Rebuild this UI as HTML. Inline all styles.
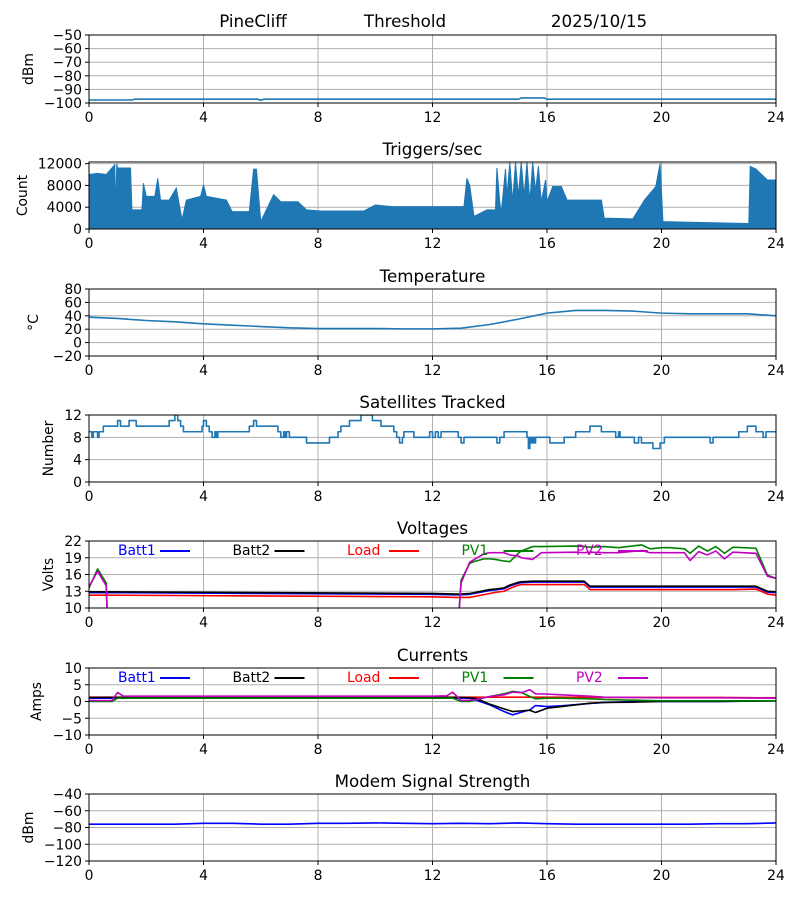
<!DOCTYPE html>
<html><head><meta charset="utf-8"><style>
html,body{margin:0;padding:0;background:#fff}
svg{display:block;font-family:"DejaVu Sans","Liberation Sans",sans-serif}
</style></head><body>
<svg id="fig" width="800" height="900" xmlns="http://www.w3.org/2000/svg">
<g font-size="16.7" fill="#000">
<text x="253" y="27" text-anchor="middle">PineCliff</text>
<text x="405" y="27" text-anchor="middle">Threshold</text>
<text x="599" y="27" text-anchor="middle">2025/10/15</text>
</g>
</svg>
<script>
// ---- data ----
const xTicks = [0,4,8,12,16,20,24];
const sigHours = [0,1.5,1.6,5.9,6.0,6.1,15,15.1,15.9,16,24];
const sigVals = [-97.8,-97.8,-97.2,-97.2,-98,-97.2,-97.2,-96.3,-96.3,-97.2,-97.2];
const sigTicks = [-100,-90,-80,-70,-60,-50];

const trigHours = [0,0.3,0.6,0.9,0.93,0.97,1.0,1.45,1.5,1.85,1.9,2.0,2.3,2.4,2.5,2.8,3.05,3.25,3.4,3.9,4.0,4.1,4.8,5.0,5.6,5.75,5.85,6.0,6.45,6.7,7.3,7.6,8.1,9.6,10.0,10.6,13.1,13.2,13.3,13.45,13.9,14.2,14.25,14.35,14.4,14.55,14.6,14.7,14.8,14.9,15.0,15.1,15.2,15.3,15.4,15.5,15.6,15.7,15.8,15.95,16.0,16.2,16.5,16.7,17.1,17.3,17.9,18.0,19.0,19.4,19.8,19.95,20.05,20.1,20.4,23.0,23.05,23.1,23.3,23.7,24];
const trigVals = [10000,10200,10000,11800,3000,12000,11200,11200,3500,3500,8400,6000,6000,9300,5300,5300,7500,1700,5300,6000,8100,6000,5300,3200,3200,11000,11000,1350,6300,5000,5000,3500,3300,3300,4400,4100,4100,9300,8000,2300,3500,3500,11200,5000,2900,11000,6000,12200,5000,12200,6000,12200,6000,12200,5000,12200,7000,11500,5000,9000,5000,7800,7800,5300,5300,5300,5300,2000,1850,5300,7800,12000,1400,1350,1300,1000,1000,11500,11000,9000,9000];
const trigTicks = [0,4000,8000,12000];

const tempHours = [0,1,2,3,4,5,6,7,8,9,10,11,12,13,14,15,16,17,18,19,20,21,22,23,24];
const tempVals = [38,36,33,31,28,26,24,22,21,21,21,20.5,20.5,21.5,27,35,44,48,48,47,44,43,43,43,40];
const tempTicks = [-20,0,20,40,60,80];

const satHours = [0,0.1,0.15,0.3,0.35,0.5,1.0,1.1,1.4,1.65,2.8,3.0,3.1,3.2,3.3,3.95,4.0,4.1,4.2,4.3,4.4,4.45,4.5,5.6,5.75,5.85,6.6,6.7,6.8,6.85,6.9,7.0,7.6,8.4,8.7,8.8,9.1,9.5,9.9,10.2,10.65,10.75,10.85,10.95,11.0,11.35,11.9,12.0,12.1,12.2,12.3,12.9,13.0,13.1,14.25,14.35,14.5,15.3,15.35,15.4,15.45,15.5,15.55,15.6,16.1,16.6,17.0,17.5,17.9,18.4,18.5,18.55,19.05,19.2,19.3,19.7,19.95,20.1,21.7,21.8,22.7,23.0,23.3,23.55,23.65,24];
const satVals = [9,8,9,8,9,10,11,10,11,10,11,12,11,10,9,10,11,10,9,8,9,8,9,10,11,10,9,8,9,8,9,8,7,8,9,10,11,12,11,10,9,8,7,8,9,8,9,8,9,8,9,8,7,8,7,8,9,8,6,8,7,8,7,8,7,8,9,10,9,8,9,8,7,8,7,6,7,8,7,8,9,10,9,8,9,9];
const satTicks = [0,4,8,12];

const vHours = [0,0.3,0.6,0.7,12,12.8,13.0,13.3,13.5,13.8,14,14.2,14.5,14.7,15,15.1,15.5,15.8,17,17.3,17.5,18,18.5,19.3,19.6,20,20.3,20.8,21,21.3,21.6,21.9,22.2,22.5,23.3,23.7,24];
const vBatt1 = [12.75,12.75,12.75,12.75,12.45,12.35,12.35,12.45,12.65,12.95,13.15,13.25,13.45,13.95,14.45,14.55,14.65,14.65,14.65,14.65,13.75,13.75,13.75,13.75,13.75,13.75,13.75,13.75,13.75,13.75,13.75,13.75,13.75,13.75,13.75,12.85,12.75];
const vBatt2 = [12.9,12.9,12.9,12.9,12.6,12.5,12.5,12.6,12.8,13.1,13.3,13.4,13.6,14.1,14.6,14.7,14.8,14.8,14.8,14.8,13.9,13.9,13.9,13.9,13.9,13.9,13.9,13.9,13.9,13.9,13.9,13.9,13.9,13.9,13.9,13.0,12.9];
const vLoad = [12.3,12.3,12.3,12.3,12.0,11.9,11.9,11.9,12.1,12.4,12.6,12.8,13.0,13.5,14.1,14.2,14.2,14.2,14.2,14.2,13.3,13.3,13.3,13.3,13.3,13.3,13.3,13.3,13.3,13.3,13.3,13.3,13.3,13.3,13.4,12.5,12.3];
const vPV1 = [13.6,17.0,14.5,0,0,0,15,18,18.4,18.8,18.8,18.7,18.4,18.3,19.8,20.2,21,21,21.1,21,20.9,21,20.8,21.3,20.6,20.8,20.8,20.6,19.8,21.1,20.2,21,19.8,20.9,20.7,15.9,15.3];
const vPV2 = [13.8,16.6,14.0,0,0,0,14.5,18.2,18.8,19.7,19.9,19.9,19.9,19.5,19.3,19.0,18.7,19.9,20,19.9,20,19.9,19.9,20.3,19.9,19.9,19.9,19.9,18.5,20.1,19.5,20.2,18.8,20,19.8,15.7,15.3];
const vTicks = [10,13,16,19,22];

const cHours = [0,0.8,1.0,1.2,12,12.5,12.7,13,13.3,13.5,14,14.5,14.8,15.1,15.4,15.6,16,16.5,17.5,18,19,20,22,24];
const cBatt1 = [1.0,1.0,1.0,1.0,1.0,1.0,1.0,1.0,1.0,0.5,-1,-3,-4,-3.2,-2.5,-1.2,-1.5,-1.3,-0.6,-0.3,0,0,0,0.2];
const cBatt2 = [1.2,1.2,1.2,1.2,1.2,1.2,1.2,1.2,1.1,1,-0.8,-2.2,-3,-2.8,-2.6,-3.3,-2,-1.5,-0.5,-0.3,-0.2,0,0,0.2];
const cLoad = [1.3,1.3,1.3,1.3,1.3,1.3,1.3,1.3,1.3,1.3,1.3,1.3,1.3,1.3,1.3,1.3,1.3,1.3,1.2,1.2,1.2,1.2,1.2,1.1];
const cPV1 = [0,0,1,1,1,1,1,0,0,0.5,1.5,2.3,3,2.7,1.5,0.8,1,1,0.8,0.6,0.4,0.2,0.2,0.2];
const cPV2 = [0.3,0.3,2.7,1.6,1.6,1.7,2.8,0.3,0.4,0.6,1.5,2.0,2.8,2.6,3.5,2.3,2.2,2.0,1.6,1.3,1.2,1.1,1.1,1.0];
const cTicks = [-10,-5,0,5,10];

const modemHours = [0,1,2,3,4,5,6,7,8,9,10,11,12,13,14,15,16,17,18,19,20,21,22,23,24];
const modemVals = [-76,-76,-76,-76,-75,-75,-76,-76,-75,-75,-74.5,-75,-75.5,-75,-75.5,-74.5,-75.5,-76,-76,-76,-76,-76,-75.5,-75.5,-74.5];
const modemTicks = [-120,-100,-80,-60,-40];

const legendNames = ['Batt1','Batt2','Load','PV1','PV2'];
const legendColors = ['#0000ff','#000000','#ff0000','#008000','#bf00bf'];

// ---- drawing ----
const NS='http://www.w3.org/2000/svg';
const svg=document.getElementById('fig');
const X0=89, X1=776;
function el(tag,attrs,parent){const e=document.createElementNS(NS,tag);for(const k in attrs)e.setAttribute(k,attrs[k]);(parent||svg).appendChild(e);return e;}
const xs=h=>X0+(h/24)*(X1-X0);
let clipN=0;

function panel(o){
  const g=el('g',{});
  
  
  const ys=v=>o.bot-(v-o.ymin)/(o.ymax-o.ymin)*(o.bot-o.top);
  const t=el('text',{x:(X0+X1)/2,y:o.top-7,'text-anchor':'middle','font-size':'16.7'},g);
  t.textContent=o.title;
  
  
  // grid
  xTicks.forEach(v=>{const l=el('line',{x1:xs(v),x2:xs(v),y1:o.top,y2:o.bot,stroke:'#b0b0b0','stroke-width':1},g);
    });
  o.ticks.forEach(v=>{const l=el('line',{x1:X0,x2:X1,y1:ys(v),y2:ys(v),stroke:'#b0b0b0','stroke-width':1},g);
    });
  const cid='c'+(clipN++);
  const cp=el('clipPath',{id:cid},g);el('rect',{x:X0,y:o.top,width:X1-X0,height:o.bot-o.top},cp);
  const plot=el('g',{'clip-path':'url(#'+cid+')'},g);
  o.draw(plot,ys);
  el('rect',{x:X0,y:o.top,width:X1-X0,height:o.bot-o.top,fill:'none',stroke:'#000','stroke-width':1},g);
  xTicks.forEach(v=>{el('line',{x1:xs(v),x2:xs(v),y1:o.bot,y2:o.bot+4,stroke:'#000'},g);
    const tx=el('text',{x:xs(v),y:o.bot+19,'text-anchor':'middle','font-size':'13.9'},g);tx.textContent=v;
    });
  o.ticks.forEach(v=>{el('line',{x1:X0-4,x2:X0,y1:ys(v),y2:ys(v),stroke:'#000'},g);
    const tx=el('text',{x:X0-7,y:ys(v)+5,'text-anchor':'end','font-size':'13.9'},g);tx.textContent=String(v).replace('-','\u2212');
    });
  const yl=el('text',{x:o.ylx,y:(o.top+o.bot)/2,'text-anchor':'middle','font-size':'13.9',transform:`rotate(-90 ${o.ylx} ${(o.top+o.bot)/2})`},g);
  yl.textContent=o.ylabel;
  
  
  if(o.legend){legendNames.forEach((n,i)=>{
    const lx=118+i*114.5, ly=o.top+14;
    const tx=el('text',{x:lx,y:ly,'font-size':'13.9',fill:legendColors[i]},g);tx.textContent=n;
    
    el('line',{x1:lx+42,x2:lx+72,y1:ly-4,y2:ly-4,stroke:legendColors[i],'stroke-width':2},g);});}
}
function line(p,ys,hs,vs,color,name,step){
  let d='';
  hs.forEach((h,i)=>{const x=xs(h),y=ys(vs[i]);
    if(i===0)d+='M'+x+' '+y;else{ if(step)d+='H'+x; d+='L'+x+' '+y;}});
  if(step)d+='H'+xs(24);
  const path=el('path',{d:d,fill:'none',stroke:color,'stroke-width':1.6,'stroke-linejoin':'round'},p);
  
  
}

panel({name:'signal',title:'',top:35,bot:103,ymin:-100,ymax:-50,ticks:sigTicks,ylabel:'dBm',ylx:33,
  draw:(p,ys)=>line(p,ys,sigHours,sigVals,'#1f77b4','signal-line')});
panel({name:'triggers',title:'Triggers/sec',top:162,bot:229,ymin:0,ymax:12300,ticks:trigTicks,ylabel:'Count',ylx:27,
  draw:(p,ys)=>{let d='M'+xs(trigHours[0])+' '+ys(0);
    trigHours.forEach((h,i)=>{d+='L'+xs(h)+' '+ys(trigVals[i]);});
    d+='L'+xs(24)+' '+ys(0)+'Z';
    const a=el('path',{d:d,fill:'#1f77b4',stroke:'#1f77b4','stroke-width':1},p);
    
    }});
panel({name:'temperature',title:'Temperature',top:289,bot:356,ymin:-20,ymax:80,ticks:tempTicks,ylabel:'\u00B0C',ylx:38,
  draw:(p,ys)=>line(p,ys,tempHours,tempVals,'#1f77b4','temperature-line')});
panel({name:'satellites',title:'Satellites Tracked',top:415,bot:482,ymin:0,ymax:12,ticks:satTicks,ylabel:'Number',ylx:53,
  draw:(p,ys)=>line(p,ys,satHours,satVals,'#1f77b4','satellites-line',true)});
panel({name:'voltages',title:'Voltages',top:541,bot:608,ymin:10,ymax:22,ticks:vTicks,ylabel:'Volts',ylx:53,legend:true,
  draw:(p,ys)=>{line(p,ys,vHours,vBatt1,'#0000ff','voltage-batt1');line(p,ys,vHours,vLoad,'#ff0000','voltage-load');
    line(p,ys,vHours,vBatt2,'#000000','voltage-batt2');line(p,ys,vHours,vPV1,'#008000','voltage-pv1');line(p,ys,vHours,vPV2,'#bf00bf','voltage-pv2');}});
panel({name:'currents',title:'Currents',top:668,bot:735,ymin:-10,ymax:10,ticks:cTicks,ylabel:'Amps',ylx:41,legend:true,
  draw:(p,ys)=>{line(p,ys,cHours,cBatt1,'#0000ff','current-batt1');line(p,ys,cHours,cLoad,'#ff0000','current-load');
    line(p,ys,cHours,cBatt2,'#000000','current-batt2');line(p,ys,cHours,cPV1,'#008000','current-pv1');line(p,ys,cHours,cPV2,'#bf00bf','current-pv2');}});
panel({name:'modem',title:'Modem Signal Strength',top:794,bot:861,ymin:-120,ymax:-40,ticks:modemTicks,ylabel:'dBm',ylx:33,
  draw:(p,ys)=>line(p,ys,modemHours,modemVals,'#0000ff','modem-line')});
</script>
</body></html>
